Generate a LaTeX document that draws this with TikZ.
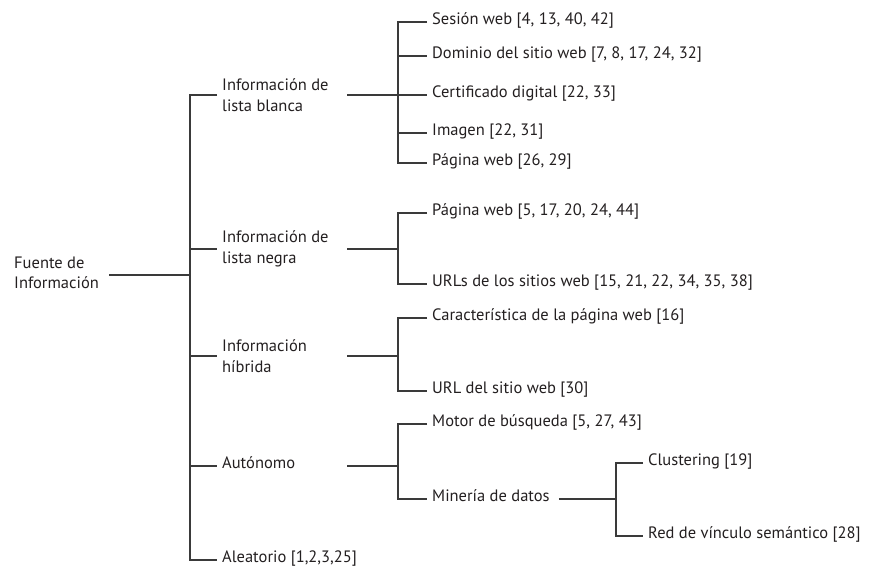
\documentclass[tikz,border=0pt]{standalone}
\usepackage{fontspec}
\setmainfont{PT Sans}
\definecolor{txt}{HTML}{231F20}
\definecolor{linec}{HTML}{3A3A3A}
\begin{document}
\begin{tikzpicture}[x=1pt,y=-1pt,
  lbl/.style={anchor=mid west, inner xsep=5pt, inner ysep=0pt, text=txt,
    font=\fontsize{16.5}{20.5}\selectfont},
  grp/.style={lbl, anchor=west, align=left},
  wire/.style={draw=linec, line width=1.1pt}]
\useasboundingbox (0,0) rectangle (872,567);
% guide coordinates
\coordinate (T) at (190,0);
\coordinate (R) at (347,0);
\coordinate (S) at (398,0);
\coordinate (M) at (616,0);
% root
\node[grp, anchor=west, inner xsep=0pt] (root) at (14,273) {Fuente de\\Información};
% groups
\node[grp] (wl) at (217,95)  {Información de\\lista blanca};
\node[grp] (bl) at (217,249) {Información de\\lista negra};
\node[grp] (hy) at (217,356) {Información\\híbrida};
\node[lbl] (au) at (217,466) {Autónomo};
\node[lbl] (al) at (217,560) {Aleatorio [1,2,3,25]};
% leaves of lista blanca
\node[lbl] (wl1) at (427,22)  {Sesión web [4, 13, 40, 42]};
\node[lbl] (wl2) at (427,56)  {Dominio del sitio web [7, 8, 17, 24, 32]};
\node[lbl] (wl3) at (427,95)  {Certificado digital [22, 33]};
\node[lbl] (wl4) at (427,133) {Imagen [22, 31]};
\node[lbl] (wl5) at (427,163) {Página web [26, 29]};
% leaves of lista negra
\node[lbl] (bl1) at (427,213) {Página web [5, 17, 20, 24, 44]};
\node[lbl] (bl2) at (427,284) {URLs de los sitios web [15, 21, 22, 34, 35, 38]};
% leaves of hibrida
\node[lbl] (hy1) at (427,318) {Característica de la página web [16]};
\node[lbl] (hy2) at (427,391) {URL del sitio web [30]};
% leaves of autonomo
\node[lbl] (au1) at (427,424) {Motor de búsqueda [5, 27, 43]};
\node[lbl] (au2) at (427,499) {Minería de datos};
\node[lbl] (mi1) at (643,463) {Clustering [19]};
\node[lbl] (mi2) at (643,536) {Red de vínculo semántico [28]};
% root to trunk
\draw[wire] ([xshift=10pt]root.east |- 0,275) -- (T |- 0,275);
% main trunk
\draw[wire] (wl.west) -- (T |- wl.west) -- (T |- al.mid west) -- (al.mid west);
\draw[wire] (T |- bl.west) -- (bl.west);
\draw[wire] (T |- hy.west) -- (hy.west);
\draw[wire] (T |- au.mid west) -- (au.mid west);
% group to sub-trunks
\draw[wire] (R |- wl.west) -- (S |- wl.west);
\draw[wire] (R |- bl.west) -- (S |- bl.west);
\draw[wire] (R |- hy.west) -- (S |- hy.west);
\draw[wire] (R |- au.mid west) -- (S |- au.mid west);
% sub-trunk lista blanca
\draw[wire] (wl1.mid west) -- (S |- wl1.mid west) -- (S |- wl5.mid west) -- (wl5.mid west);
\draw[wire] (S |- wl2.mid west) -- (wl2.mid west);
\draw[wire] (S |- wl3.mid west) -- (wl3.mid west);
\draw[wire] (S |- wl4.mid west) -- (wl4.mid west);
% sub-trunk lista negra
\draw[wire] (bl1.mid west) -- (S |- bl1.mid west) -- (S |- bl2.mid west) -- (bl2.mid west);
% sub-trunk hibrida
\draw[wire] (hy1.mid west) -- (S |- hy1.mid west) -- (S |- hy2.mid west) -- (hy2.mid west);
% sub-trunk autonomo
\draw[wire] (au1.mid west) -- (S |- au1.mid west) -- (S |- au2.mid west) -- (au2.mid west);
% mineria
\draw[wire] ([xshift=4pt]au2.mid east) -- (M |- au2.mid east);
\draw[wire] (mi1.mid west) -- (M |- mi1.mid west) -- (M |- mi2.mid west) -- (mi2.mid west);
\end{tikzpicture}
\end{document}
